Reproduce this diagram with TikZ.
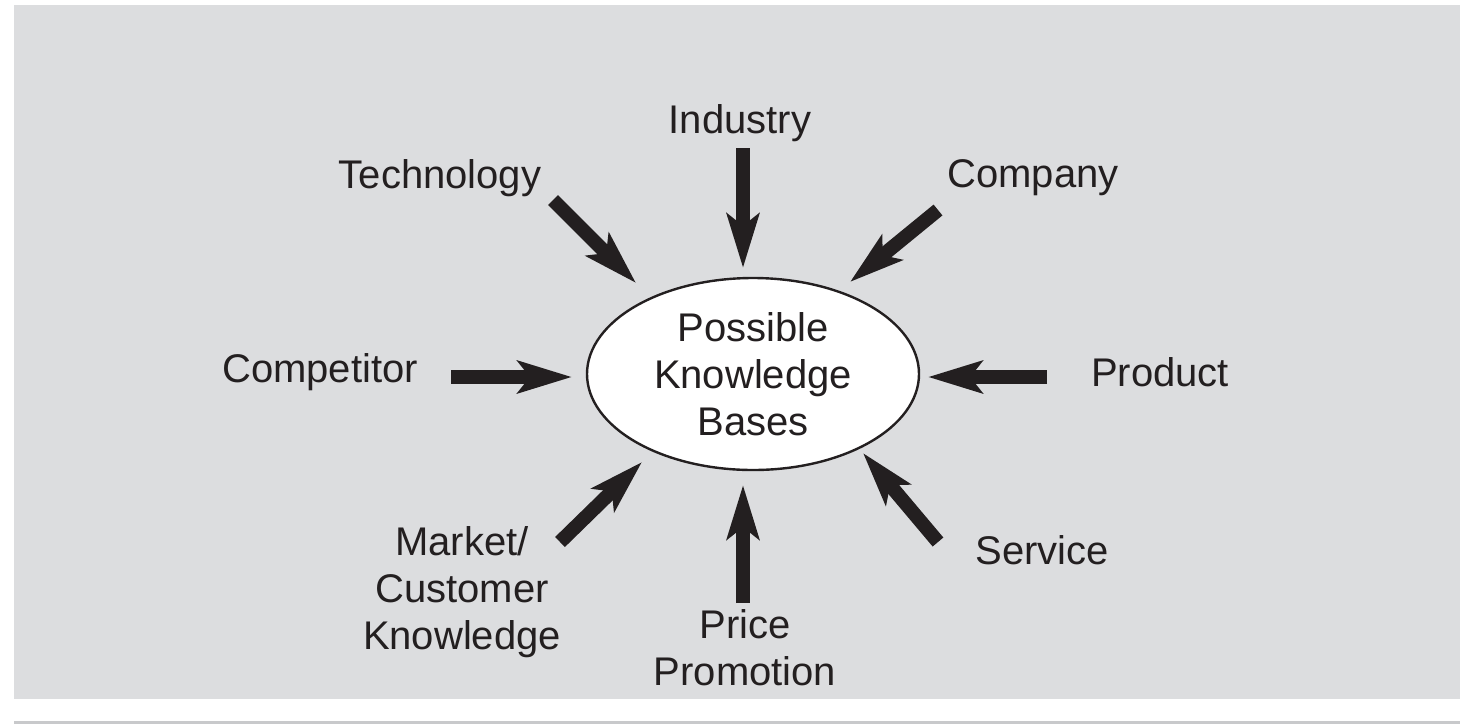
\documentclass[tikz,border=0pt]{standalone}
\usepackage{fontspec}
\setmainfont{Liberation Sans}
\usetikzlibrary{arrows.meta,shapes.geometric}
\definecolor{panel}{HTML}{DCDDDF}
\definecolor{ink}{HTML}{231F20}
\definecolor{rule}{HTML}{C8C9CB}
\tikzset{
  px/.style={x=0.5pt,y=-0.5pt},
  lbl/.style={font=\fontsize{20}{23.5}\selectfont, text=ink, align=center, inner sep=0pt},
  bigarrow/.style={draw=ink, line width=7pt,
    -{Stealth[length=27pt,width=16pt,inset=6pt]}},
  hub/.style={ellipse, draw=ink, line width=1.2pt, fill=white,
    minimum width=166pt, minimum height=96pt, inner sep=0pt}
}
\begin{document}
\begin{tikzpicture}[px]
  \useasboundingbox (0,0) rectangle (1460,724);
  % panel and bottom rule
  \fill[panel] (14,5) rectangle (1460,699);
  \fill[rule] (14,721) rectangle (1460,724);

  % central ellipse
  \node[hub, lbl] (hub) at (753,374) {Possible\\Knowledge\\Bases};

  % surrounding labels
  \node[lbl] (industry) at (740,123) {Industry};
  \node[lbl] (tech) at (440,178) {Technology};
  \node[lbl] (company) at (1033,178) {Company};
  \node[lbl] (competitor) at (320,372) {Competitor};
  \node[lbl] (product) at (1160,372) {Product};
  \node[lbl] (market) at (462,592) {Market/\\Customer\\Knowledge};
  \node[lbl] (price) at (745,648) {Price\\Promotion};
  \node[lbl] (service) at (1042,550) {Service};

  % arrow ends
  \coordinate (tTech) at (553,200);  \coordinate (hTech) at (636,283);
  \coordinate (tInd) at (743,148);   \coordinate (hInd) at (743,268);
  \coordinate (tComp) at (938,210);  \coordinate (hComp) at (850,282);
  \coordinate (tCmp) at (451,377);   \coordinate (hCmp) at (572,377);
  \coordinate (tProd) at (1047,377); \coordinate (hProd) at (928,377);
  \coordinate (tMkt) at (560,542);   \coordinate (hMkt) at (642,462);
  \coordinate (tPrice) at (743,603); \coordinate (hPrice) at (743,485);
  \coordinate (tServ) at (938,542);  \coordinate (hServ) at (863,453);

  \draw[bigarrow] (tTech) -- (hTech);
  \draw[bigarrow] (tInd) -- (hInd);
  \draw[bigarrow] (tComp) -- (hComp);
  \draw[bigarrow] (tCmp) -- (hCmp);
  \draw[bigarrow] (tProd) -- (hProd);
  \draw[bigarrow] (tMkt) -- (hMkt);
  \draw[bigarrow] (tPrice) -- (hPrice);
  \draw[bigarrow] (tServ) -- (hServ);
\end{tikzpicture}
\end{document}
